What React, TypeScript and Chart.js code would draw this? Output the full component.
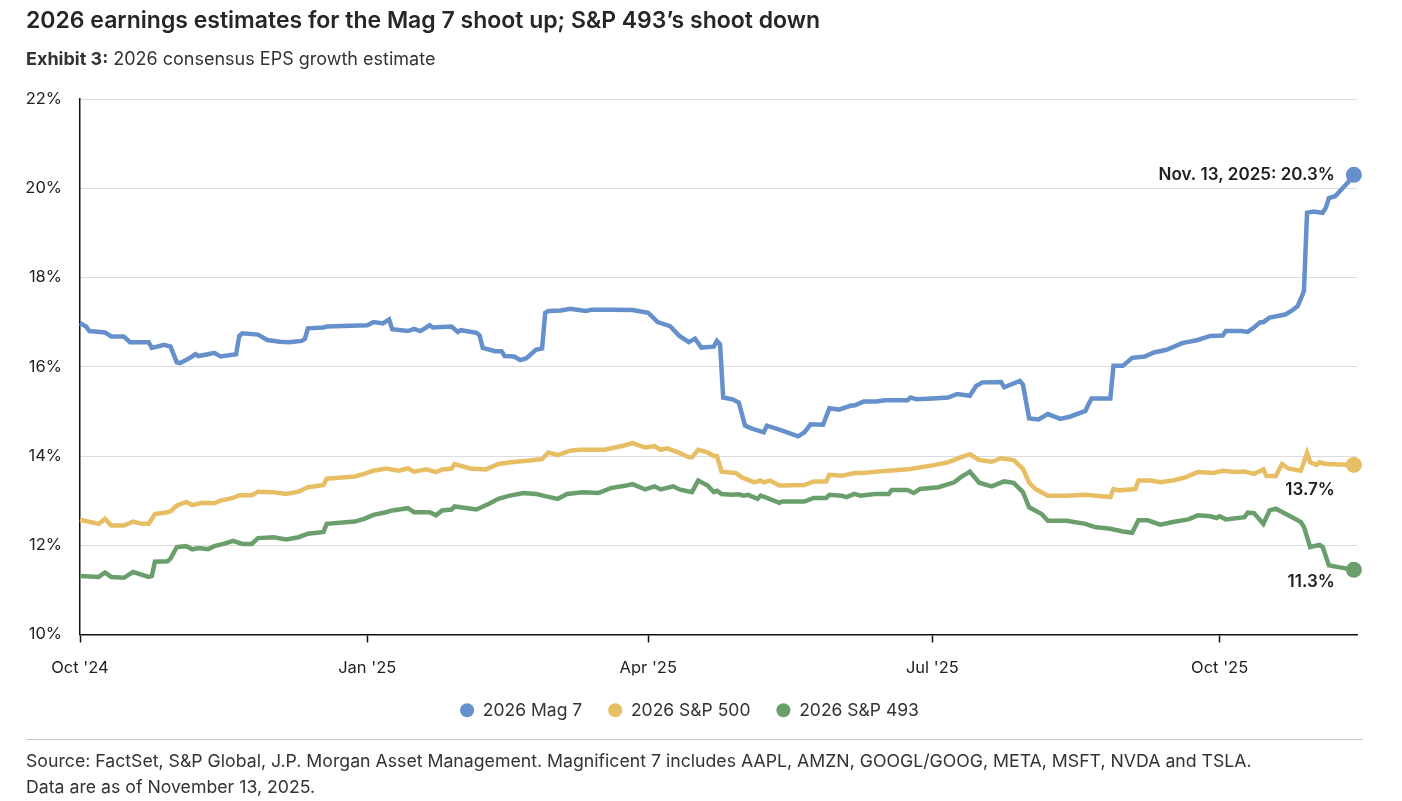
import React, { useEffect, useRef } from "react";
import { Chart, registerables } from "chart.js";

Chart.register(...registerables);

// x values are days since Oct 1, 2024
const xTickDays = [0, 92, 182, 273, 365];
const xTickLabels = ["Oct '24", "Jan '25", "Apr '25", "Jul '25", "Oct '25"];
const xMaxDay = 409;

const seriesNames = ["2026 Mag 7", "2026 S&P 500", "2026 S&P 493"];
const seriesColors = ["#6590CB", "#E7BE63", "#6A9F6D"];
const endLabels = ["Nov. 13, 2025: 20.3%", "13.7%", "11.3%"];

const mag7Days = [0, 2, 3, 8, 10, 14, 16, 22, 23, 27, 29, 31, 32, 35, 37, 38, 41, 43, 45, 50, 51, 52, 57, 60, 64, 67, 71, 72, 73, 78, 79, 92, 94, 97, 99, 100, 105, 107, 109, 112, 113, 119, 121, 122, 127, 128, 129, 133, 135, 136, 139, 141, 143, 146, 148, 149, 150, 154, 157, 162, 164, 170, 177, 182, 185, 189, 192, 195, 197, 199, 203, 204, 205, 206, 209, 211, 213, 215, 219, 220, 224, 230, 232, 234, 238, 240, 243, 247, 248, 251, 255, 258, 265, 266, 268, 273, 278, 281, 285, 287, 289, 295, 296, 301, 302, 304, 307, 310, 314, 317, 322, 323, 324, 330, 331, 334, 337, 341, 344, 348, 353, 358, 362, 366, 367, 372, 374, 376, 378, 379, 381, 386, 388, 390, 392, 393, 395, 398, 399, 400, 402, 406, 408];
const mag7Values = [16.98, 16.9, 16.8, 16.77, 16.68, 16.68, 16.55, 16.55, 16.42, 16.49, 16.45, 16.1, 16.08, 16.19, 16.28, 16.24, 16.28, 16.31, 16.23, 16.28, 16.69, 16.75, 16.72, 16.6, 16.56, 16.55, 16.58, 16.62, 16.86, 16.88, 16.9, 16.93, 17.0, 16.97, 17.06, 16.84, 16.8, 16.85, 16.8, 16.93, 16.88, 16.9, 16.78, 16.82, 16.76, 16.7, 16.42, 16.35, 16.35, 16.24, 16.23, 16.15, 16.19, 16.38, 16.41, 17.21, 17.25, 17.26, 17.3, 17.25, 17.28, 17.28, 17.27, 17.21, 17.0, 16.91, 16.69, 16.55, 16.63, 16.43, 16.45, 16.58, 16.5, 15.31, 15.27, 15.2, 14.68, 14.62, 14.53, 14.68, 14.59, 14.44, 14.53, 14.71, 14.7, 15.07, 15.04, 15.13, 15.13, 15.22, 15.22, 15.25, 15.25, 15.31, 15.27, 15.29, 15.31, 15.39, 15.35, 15.57, 15.65, 15.66, 15.54, 15.68, 15.6, 14.84, 14.82, 14.94, 14.83, 14.88, 15.01, 15.16, 15.29, 15.29, 16.02, 16.02, 16.2, 16.23, 16.32, 16.38, 16.53, 16.6, 16.69, 16.7, 16.8, 16.8, 16.78, 16.88, 17.0, 17.0, 17.1, 17.17, 17.25, 17.36, 17.69, 19.45, 19.48, 19.45, 19.56, 19.78, 19.82, 20.12, 20.3];

const sp500Days = [0, 6, 8, 10, 14, 17, 20, 22, 24, 28, 29, 31, 34, 36, 39, 43, 45, 49, 51, 55, 57, 62, 66, 70, 73, 78, 79, 88, 91, 94, 98, 99, 102, 105, 107, 111, 114, 116, 119, 120, 125, 130, 134, 138, 144, 148, 150, 153, 157, 160, 168, 174, 177, 181, 184, 186, 188, 192, 195, 196, 198, 201, 203, 204, 205.5, 210, 212, 216, 218, 219, 221, 224, 232, 235, 239, 240, 244, 248, 251, 255, 259, 266, 273, 278, 282, 285, 288, 292, 295, 299, 302, 304, 306, 310, 316, 322, 330, 331, 333, 338, 339, 343, 346, 350, 354, 358, 363, 366, 370, 373, 376, 379, 380, 383, 385, 387, 391, 393, 394, 396, 397, 399, 408];
const sp500Values = [12.57, 12.48, 12.59, 12.44, 12.44, 12.53, 12.48, 12.48, 12.7, 12.74, 12.76, 12.89, 12.97, 12.9, 12.95, 12.94, 13.0, 13.06, 13.12, 13.12, 13.2, 13.19, 13.15, 13.2, 13.3, 13.35, 13.49, 13.54, 13.6, 13.67, 13.72, 13.71, 13.67, 13.72, 13.65, 13.7, 13.64, 13.7, 13.72, 13.82, 13.72, 13.7, 13.82, 13.86, 13.9, 13.93, 14.08, 14.02, 14.12, 14.14, 14.14, 14.23, 14.29, 14.19, 14.22, 14.14, 14.17, 14.07, 13.97, 13.97, 14.14, 14.08, 14.0, 14.0, 13.65, 13.62, 13.52, 13.41, 13.45, 13.41, 13.45, 13.34, 13.35, 13.43, 13.43, 13.58, 13.56, 13.62, 13.62, 13.65, 13.67, 13.71, 13.79, 13.86, 13.97, 14.04, 13.91, 13.87, 13.95, 13.91, 13.71, 13.4, 13.26, 13.11, 13.11, 13.13, 13.08, 13.26, 13.23, 13.26, 13.45, 13.45, 13.41, 13.45, 13.52, 13.64, 13.62, 13.67, 13.64, 13.65, 13.6, 13.7, 13.55, 13.55, 13.82, 13.72, 13.67, 14.07, 13.86, 13.8, 13.86, 13.82, 13.8];

const sp493Days = [0, 6, 8, 10, 14, 17, 22, 23, 24, 28, 29, 31, 34, 36, 38, 41, 43, 46, 49, 52, 55, 57, 62, 66, 70, 73, 78, 79, 88, 91, 94, 98, 100, 105, 107, 112, 114, 116, 119, 120, 127, 131, 134, 137, 142, 146, 149, 153, 156, 161, 166, 170, 175, 177, 181, 184, 186, 190, 192, 196, 198, 201, 203, 204, 205.5, 209, 211, 212.5, 214, 217, 218, 220, 224, 225, 232, 235, 239, 240, 244, 245.5, 248, 250, 254.5, 259, 260, 265, 267, 269, 275, 280, 282, 285, 288, 292, 296, 299, 302, 304, 308, 310, 316, 322, 325, 330, 334, 337, 339, 342, 346, 350, 355, 358, 362, 364, 365, 367, 373, 374, 376, 379, 381, 383, 387, 391, 392, 394, 397, 398, 400, 403, 408];
const sp493Values = [11.31, 11.29, 11.39, 11.29, 11.27, 11.4, 11.29, 11.31, 11.63, 11.64, 11.7, 11.96, 11.98, 11.91, 11.94, 11.91, 11.98, 12.03, 12.1, 12.03, 12.03, 12.16, 12.18, 12.13, 12.18, 12.26, 12.3, 12.48, 12.53, 12.59, 12.68, 12.74, 12.78, 12.83, 12.74, 12.74, 12.67, 12.78, 12.8, 12.87, 12.8, 12.93, 13.04, 13.1, 13.17, 13.15, 13.1, 13.04, 13.15, 13.19, 13.17, 13.28, 13.34, 13.37, 13.25, 13.32, 13.25, 13.32, 13.25, 13.19, 13.45, 13.34, 13.19, 13.22, 13.15, 13.13, 13.14, 13.11, 13.13, 13.04, 13.11, 13.06, 12.95, 12.98, 12.98, 13.06, 13.06, 13.13, 13.11, 13.08, 13.15, 13.11, 13.15, 13.15, 13.24, 13.24, 13.17, 13.26, 13.3, 13.41, 13.52, 13.65, 13.4, 13.32, 13.43, 13.4, 13.19, 12.85, 12.7, 12.55, 12.55, 12.48, 12.41, 12.37, 12.31, 12.28, 12.56, 12.56, 12.46, 12.52, 12.58, 12.67, 12.65, 12.61, 12.65, 12.58, 12.63, 12.73, 12.72, 12.48, 12.78, 12.82, 12.67, 12.52, 12.41, 11.96, 12.01, 11.96, 11.55, 11.51, 11.45];

const FONT = "Inter, 'Noto Sans', sans-serif";

const toPoints = (days: number[], values: number[]) =>
  days.map((d, i) => ({ x: d, y: values[i] }));

const endLabelPlugin = {
  id: "endLabels",
  afterDatasetsDraw(chart: any) {
    const ctx = chart.ctx;
    const offsets = [
      { dx: -19, dy: 0 },
      { dx: -19, dy: 25 },
      { dx: -19, dy: 12 },
    ];
    ctx.save();
    ctx.font = `600 17px ${FONT}`;
    ctx.fillStyle = "#1f1f1f";
    ctx.textAlign = "right";
    ctx.textBaseline = "middle";
    chart.data.datasets.forEach((ds: any, i: number) => {
      const meta = chart.getDatasetMeta(i);
      const pt = meta.data[meta.data.length - 1];
      if (!pt) return;
      ctx.fillText(endLabels[i], pt.x + offsets[i].dx, pt.y + offsets[i].dy);
    });
    ctx.restore();
  },
};

export default function App() {
  const canvasRef = useRef<HTMLCanvasElement | null>(null);

  useEffect(() => {
    if (!canvasRef.current) return;
    Chart.defaults.font.family = FONT;
    const series = [
      toPoints(mag7Days, mag7Values),
      toPoints(sp500Days, sp500Values),
      toPoints(sp493Days, sp493Values),
    ];
    const chart = new Chart(canvasRef.current, {
      type: "line",
      data: {
        datasets: series.map((pts, i) => ({
          label: seriesNames[i],
          data: pts,
          borderColor: seriesColors[i],
          backgroundColor: seriesColors[i],
          pointBackgroundColor: seriesColors[i],
          borderWidth: 4.5,
          pointBorderWidth: 0,
          pointStyle: "circle",
          pointRadius: (c: any) => (c.dataIndex === pts.length - 1 ? 8 : 0),
          pointHoverRadius: (c: any) => (c.dataIndex === pts.length - 1 ? 8 : 0),
          tension: 0,
          fill: false,
          clip: false,
        })),
      },
      plugins: [endLabelPlugin],
      options: {
        animation: false,
        responsive: false,
        events: [],
        layout: { padding: { left: 22, right: 45, top: 99, bottom: 72 } },
        plugins: {
          tooltip: { enabled: false },
          title: { display: false },
          legend: {
            display: true,
            position: "bottom",
            labels: {
              usePointStyle: true,
              pointStyle: "circle",
              pointStyleWidth: 14,
              boxHeight: 10,
              padding: 26,
              color: "#333",
              font: { size: 17.5, family: FONT },
            },
          },
        },
        scales: {
          x: {
            type: "linear",
            min: 0,
            max: xMaxDay,
            afterBuildTicks: (scale: any) => {
              scale.ticks = xTickDays.map((v) => ({ value: v }));
            },
            afterFit: (scale: any) => {
              scale.height = 41;
            },
            ticks: {
              autoSkip: false,
              maxRotation: 0,
              padding: 16,
              color: "#222",
              font: { size: 16.5, family: FONT },
              callback: (v: any) => {
                const idx = xTickDays.indexOf(Number(v));
                return idx >= 0 ? xTickLabels[idx] : "";
              },
            },
            grid: {
              display: true,
              drawOnChartArea: false,
              drawTicks: true,
              tickLength: 8,
              tickColor: "#111",
              tickWidth: 1.5,
            },
            border: { display: true, color: "#111", width: 1.5 },
          },
          y: {
            min: 10,
            max: 22,
            afterFit: (scale: any) => {
              scale.width = 58;
            },
            ticks: {
              stepSize: 2,
              padding: 18,
              color: "#222",
              font: { size: 16.5, family: FONT },
              callback: (v: any) => `${v}%`,
            },
            grid: {
              color: "#dcdcdc",
              lineWidth: 1,
              drawTicks: false,
            },
            border: { display: true, color: "#111", width: 1.5 },
          },
        },
      },
    });
    return () => chart.destroy();
  }, []);

  return (
    <div
      style={{
        position: "absolute",
        left: 0,
        top: 0,
        width: 1402,
        height: 801,
        background: "#fff",
        fontFamily: FONT,
        overflow: "hidden",
      }}
    >
      <canvas
        ref={canvasRef}
        width={1402}
        height={801}
        style={{ position: "absolute", left: 0, top: 0, width: 1402, height: 801 }}
      />
      <div
        style={{
          position: "absolute",
          left: 26,
          top: 6,
          fontSize: 23,
          fontWeight: 600,
          color: "#262626",
          lineHeight: "28px",
          whiteSpace: "nowrap",
        }}
      >
        2026 earnings estimates for the Mag 7 shoot up; S&amp;P 493’s shoot down
      </div>
      <div
        style={{
          position: "absolute",
          left: 26,
          top: 47,
          fontSize: 18,
          color: "#333",
          lineHeight: "24px",
          whiteSpace: "nowrap",
        }}
      >
        <span style={{ fontWeight: 700 }}>Exhibit 3:</span> 2026 consensus EPS growth estimate
      </div>
      <div
        style={{
          position: "absolute",
          left: 26,
          top: 739,
          width: 1337,
          height: 1,
          background: "#c8c8c8",
        }}
      />
      <div
        style={{
          position: "absolute",
          left: 26,
          top: 748,
          fontSize: 17.7,
          color: "#333",
          lineHeight: "26px",
          whiteSpace: "nowrap",
        }}
      >
        <div>
          Source: FactSet, S&amp;P Global, J.P. Morgan Asset Management. Magnificent 7 includes AAPL, AMZN,
          GOOGL/GOOG, META, MSFT, NVDA and TSLA.
        </div>
        <div>Data are as of November 13, 2025.</div>
      </div>
    </div>
  );
}
